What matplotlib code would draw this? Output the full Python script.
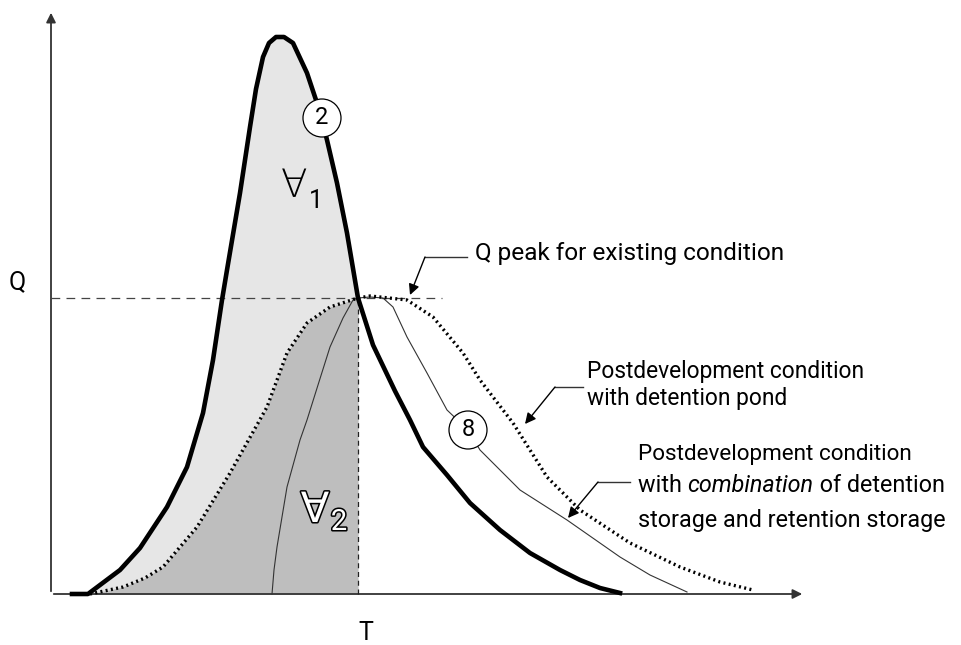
import matplotlib
matplotlib.use("Agg")
import matplotlib.pyplot as plt
from matplotlib.patches import Circle
import matplotlib.patheffects as pe

plt.rcParams['font.family'] = ['Roboto', 'DejaVu Sans']

# hydrographs, sketched (time, discharge) in arbitrary units
t_pre = [21, 37, 49, 69, 89, 116, 136, 152, 162, 171, 176, 189, 199, 205, 212, 218, 225, 233, 242,
         256, 269, 276, 286, 296, 307, 322, 344, 359, 372, 396, 419, 449, 479, 509, 529, 549, 569]
q_pre = [0, 0, 9, 24, 46, 87, 127, 181, 234, 294, 324, 401, 467, 505, 537, 551, 557, 557, 551,
         521, 482, 454, 411, 361, 296, 249, 203, 174, 147, 119, 91, 64, 41, 24, 14, 6, 1]

t_pond = [39, 72, 94, 112, 146, 179, 216, 236, 256, 279, 307, 319, 329, 356, 382, 412, 429,
          442, 462, 496, 529, 579, 629, 669, 702]
q_pond = [0, 7, 16, 27, 67, 121, 187, 241, 271, 287, 296, 298, 297, 294, 277, 241, 214,
          197, 171, 117, 84, 51, 27, 12, 4]

t_comb = [221, 223, 226, 236, 249, 256, 267, 279, 292, 302, 307, 319, 332, 342, 356, 376, 396,
          417, 429, 469, 516, 569, 599, 636]
q_comb = [0, 24, 47, 107, 154, 174, 209, 247, 276, 294, 296, 297, 296, 287, 257, 221, 184,
          164, 144, 104, 74, 37, 19, 2]

T_peak = 307
Q_peak = 296

fig = plt.figure(figsize=(9.62, 6.45), dpi=100)
ax = fig.add_axes([0, 0, 1, 1])
ax.set_xlim(-51, 911)
ax.set_ylim(-51, 594)
ax.axis('off')

# shaded volumes up to T
tp = [t for t in t_pre if t <= T_peak]
ax.fill_between(tp, q_pre[:len(tp)], 0, color='#e6e6e6', lw=0, zorder=1)
td = [t for t in t_pond if t <= T_peak]
ax.fill_between(td, q_pond[:len(td)], 0, color='#bebebe', lw=0, zorder=2)

# axes with arrows
ax.annotate('', xy=(754, 0), xytext=(0, 0),
            arrowprops=dict(arrowstyle='-|>', color='#333333', lw=1.3, mutation_scale=14), zorder=3)
ax.annotate('', xy=(0, 584), xytext=(0, 0),
            arrowprops=dict(arrowstyle='-|>', color='#333333', lw=1.3, mutation_scale=14), zorder=3)

# Q peak / T guides
ax.plot([0, 391], [Q_peak, Q_peak], color='#444444', lw=0.9, ls=(0, (7, 5)), zorder=3)
ax.plot([T_peak, T_peak], [0, Q_peak], color='#222222', lw=0.9, ls=(0, (4, 3)), zorder=3)

ax.plot(t_comb, q_comb, color='#333333', lw=0.8, zorder=4)
ax.plot(t_pond, q_pond, color='black', lw=2.4, ls=(0, (0.6, 1.0)), zorder=5)
ax.plot(t_pre, q_pre, color='black', lw=3.3, solid_joinstyle='round', zorder=6)

# curve numbers
for (cx, cy, s) in [(271, 476, '2'), (417, 164, '8')]:
    ax.add_patch(Circle((cx, cy), 19, facecolor='white', edgecolor='black', lw=0.9, zorder=7))
    ax.text(cx, cy, s, ha='center', va='center', fontsize=17, zorder=8)

# volume symbols
ax.text(243, 408, '\u2200', ha='center', va='center', fontsize=28, family='DejaVu Sans',
        fontweight='light', zorder=8)
ax.text(265, 393, '1', ha='center', va='center', fontsize=18, zorder=8)
stroke = [pe.withStroke(linewidth=2.2, foreground='black')]
ax.text(264, 84, '\u2200', ha='center', va='center', fontsize=30, family='DejaVu Sans',
        color='white', path_effects=stroke, zorder=8)
ax.text(288, 72, '2', ha='center', va='center', fontsize=21, color='white',
        path_effects=stroke, zorder=8)

ax.text(-34, 312, 'Q', ha='center', va='center', fontsize=18)
ax.text(315, -39, 'T', ha='center', va='center', fontsize=18)

lc = '#333333'
arw = dict(arrowstyle='-|>', color='black', lw=1.0, mutation_scale=16, shrinkA=0, shrinkB=0)

# Q peak for existing condition
ax.text(424, 334, 'Q peak for existing condition', ha='left', va='baseline', fontsize=17.6)
ax.plot([416, 374], [337, 337], color=lc, lw=1.0)
ax.annotate('', xy=(359, 299), xytext=(374, 337), arrowprops=arw)

# Postdevelopment with detention pond
ax.text(536, 216, 'Postdevelopment condition', ha='left', va='baseline', fontsize=16.4)
ax.text(536, 189, 'with detention pond', ha='left', va='baseline', fontsize=16.4)
ax.plot([532, 504], [207, 207], color=lc, lw=1.0)
ax.annotate('', xy=(474, 170), xytext=(504, 207), arrowprops=arw)

# Postdevelopment with combination
fs3 = 16.8
ax.text(587, 134, 'Postdevelopment condition', ha='left', va='baseline', fontsize=16.2)
w1 = ax.text(587, 102, 'with ', ha='left', va='baseline', fontsize=fs3)
w2 = ax.annotate('combination', xy=(1, 0), xycoords=w1, ha='left', va='bottom',
                 fontsize=fs3, style='italic')
ax.annotate(' of detention', xy=(1, 0), xycoords=w2, ha='left', va='bottom', fontsize=fs3)
ax.text(587, 67, 'storage and retention storage', ha='left', va='baseline', fontsize=fs3)
ax.plot([579, 547], [112, 112], color=lc, lw=1.0)
ax.annotate('', xy=(517, 76), xytext=(547, 112), arrowprops=arw)

fig.savefig('out.png', dpi=100)
